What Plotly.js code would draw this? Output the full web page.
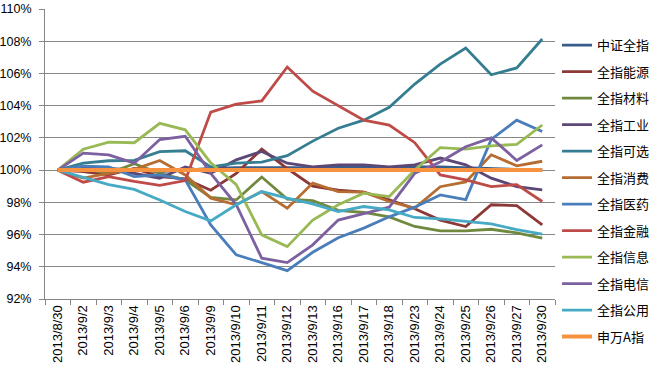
<!DOCTYPE html>
<html>
<head>
<meta charset="utf-8">
<script src="https://cdn.plot.ly/plotly-3.0.1.min.js"></script>
<style>
html,body{margin:0;padding:0;background:#fff;}
#chart{width:650px;height:375px;}
</style>
</head>
<body>
<div id="chart"></div>
<script>
var dates = ['2013/8/30','2013/9/2','2013/9/3','2013/9/4','2013/9/5','2013/9/6','2013/9/9','2013/9/10','2013/9/11','2013/9/12','2013/9/13','2013/9/16','2013/9/17','2013/9/18','2013/9/23','2013/9/24','2013/9/25','2013/9/26','2013/9/27','2013/9/30'];

var seriesNames = ['中证全指','全指能源','全指材料','全指工业','全指可选','全指消费','全指医药','全指金融','全指信息','全指电信','全指公用','申万A指'];

var zhongzhengQuanzhi = [100,100.1,100.1,100.0,99.9,100.0,100.1,100.15,100.15,100.15,100.15,100.2,100.2,100.15,100.2,100.2,100.15,100.1,100.05,100.05];
var nengyuan = [100,99.9,99.7,100.1,99.6,99.45,98.75,99.8,101.3,100.1,99.0,98.75,98.63,98.15,97.6,96.9,96.5,97.85,97.8,96.6];
var cailiao = [100,100.1,99.8,100.4,99.8,99.4,98.3,98.15,99.57,98.2,98.1,97.5,97.37,97.1,96.5,96.23,96.23,96.33,96.1,95.78];
var gongye = [100,100.2,100.1,99.8,99.5,100.2,99.8,100.64,101.16,100.43,100.2,100.33,100.33,100.2,100.33,100.75,100.33,99.5,98.98,98.78];
var kexuan = [100,100.43,100.58,100.6,101.15,101.2,100.2,100.43,100.5,100.9,101.8,102.6,103.1,103.9,105.34,106.58,107.58,105.92,106.34,108.14];
var xiaofei = [100,99.5,99.8,100.05,100.6,99.7,98.26,97.85,98.67,97.64,99.2,98.67,98.63,98.05,97.64,98.97,99.27,100.95,100.27,100.55];
var yiyao = [100,100.25,100.2,99.6,99.7,99.4,96.6,94.74,94.26,93.76,94.9,95.8,96.4,97.1,97.7,98.46,98.17,101.9,103.1,102.4];
var jinrong = [100,99.25,99.6,99.3,99.05,99.35,103.6,104.1,104.3,106.4,104.9,104.0,103.1,102.8,101.7,99.7,99.4,98.98,99.1,98.05];
var xinxi = [100,101.3,101.74,101.7,102.9,102.5,100.45,99.1,95.98,95.25,96.9,97.85,98.57,98.36,100.0,101.4,101.3,101.5,101.6,102.8];
var dianxin = [100,101.05,100.95,100.43,101.9,102.1,99.8,97.85,94.53,94.26,95.36,96.9,97.3,97.7,99.8,100.5,101.45,102.0,100.6,101.57];
var gongyong = [100,99.55,99.1,98.8,98.15,97.43,96.85,97.85,98.67,98.26,97.9,97.43,97.74,97.53,97.06,96.97,96.8,96.66,96.3,96.03];
var shenwanA = [100,100,100,100,100,100,100,100,100,100,100,100,100,100,100,100,100,100,100,100];

var yTicks = [92,94,96,98,100,102,104,106,108,110];
var yTickLabels = ['92%','94%','96%','98%','100%','102%','104%','106%','108%','110%'];

var allSeries = [zhongzhengQuanzhi,nengyuan,cailiao,gongye,kexuan,xiaofei,yiyao,jinrong,xinxi,dianxin,gongyong,shenwanA];
var colors = ['#385D8A','#8C3836','#71893F','#5C4776','#357D91','#B66D31','#4A7EBB','#BE4B48','#98B954','#7D60A0','#46AAC5','#F69240'];

var traces = allSeries.map(function(vals, i){
  return {
    type:'scatter', mode:'lines', x:dates, y:vals, name:seriesNames[i],
    legendgroup:'g'+i,
    line:{color:colors[i], width:(i === 11 ? 4 : 2.8)}
  };
});

var layout = {
  width:650, height:375,
  margin:{l:45, r:95, t:9, b:76, autoexpand:false},
  paper_bgcolor:'#fff', plot_bgcolor:'#fff',
  font:{family:'Liberation Sans, Arial, sans-serif', color:'#000'},
  showlegend:true,
  legend:{
    x:1.004, xanchor:'left', y:0.927, yanchor:'top', maxheight:360,
    font:{family:'Noto Sans CJK SC, sans-serif', size:13, color:'#000'},
    tracegroupgap:6.6, traceorder:'grouped', borderwidth:0, bgcolor:'rgba(0,0,0,0)'
  },
  xaxis:{
    type:'category', tickangle:-90, tickson:'boundaries',
    ticks:'outside', ticklen:5, tickcolor:'#868686',
    showline:true, linecolor:'#868686', linewidth:1,
    showgrid:false, zeroline:false,
    tickfont:{size:13, family:'Liberation Sans, Arial, sans-serif'},
    range:[-0.5, 19.5], fixedrange:true
  },
  yaxis:{
    range:[92,110], tickvals:yTicks, ticktext:yTickLabels,
    ticks:'outside', ticklen:5, tickcolor:'#868686', ticklabelstandoff:5,
    showline:true, linecolor:'#868686', linewidth:1,
    showgrid:true, gridcolor:'#868686', gridwidth:1, zeroline:false,
    tickfont:{size:12.5, family:'Liberation Sans, Arial, sans-serif'},
    fixedrange:true
  }
};

Plotly.newPlot('chart', traces, layout, {displayModeBar:false, staticPlot:true});
</script>
</body>
</html>
